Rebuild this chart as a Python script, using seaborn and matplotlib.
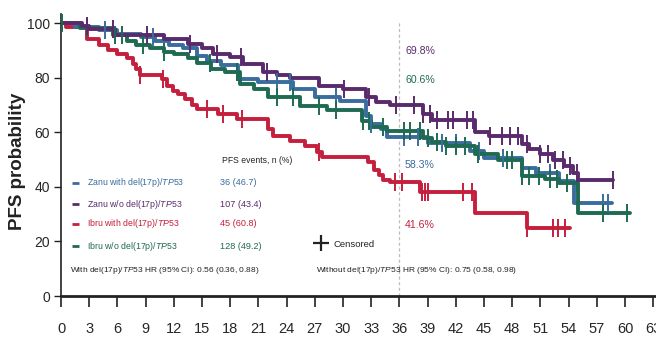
import numpy as np
import pandas as pd
import matplotlib
matplotlib.use("Agg")
import matplotlib.pyplot as plt
import seaborn as sns

# ---- Kaplan-Meier step data (months, PFS %) ----
red_t = [0, 0.5, 2.8, 4.0, 5.0, 6.0, 7.0, 7.7, 8.0, 8.4, 10.7, 11.3, 11.9, 12.5, 13.2,
         13.9, 14.5, 16.7, 18.7, 22.0, 22.6, 24.4, 26.0, 27.2, 27.8, 32.7, 33.3, 33.8,
         34.3, 35.0, 38.2, 44.0, 49.6, 54.1]
red_s = [100, 98.5, 94, 92, 90, 88.5, 87, 85, 83, 81, 79.4, 77, 75, 74, 72,
         70, 68.4, 66.5, 64.7, 61, 58.5, 56.6, 54.8, 52.6, 51, 49, 46, 44.5,
         42.6, 41.6, 38, 30.5, 25, 25]
red_c = [8.4, 10.9, 15.5, 17.2, 19.3, 27.5, 35.5, 36.3, 38.4, 38.7, 39.0, 42.8, 43.7,
         49.6, 52.3, 52.9, 53.6]

purple_t = [0, 2.2, 3.0, 5.7, 11.0, 13.5, 15.0, 16.2, 18.0, 19.4, 21.5, 23.0, 24.4, 27.5,
            30.0, 32.5, 33.5, 35.0, 38.5, 39.5, 44.0, 45.5, 49.0, 49.8, 51.0, 52.3, 53.5,
            54.5, 55.0, 58.7]
purple_s = [100, 99, 97.8, 95.5, 94, 92.3, 91, 88.5, 87.5, 85, 82, 81, 80, 77,
            75.7, 73, 71, 69.8, 66.5, 64.5, 60, 58.5, 55.5, 53.7, 52, 50, 47.5,
            45, 42.6, 42.6]
purple_c = [2.8, 5.5, 9.1, 13.7, 16.6, 19.2, 21.9, 30.1, 32.8, 35.6, 37.6, 38.5, 39.3,
            40.0, 41.2, 41.7, 43.2, 43.8, 45.6, 46.9, 47.8, 48.6, 49.6, 51.0, 51.8, 52.6,
            53.4, 54.2, 54.9, 58.7]

green_t = [0, 2.0, 5.5, 7.0, 8.0, 9.5, 11.0, 12.0, 13.5, 14.5, 16.0, 17.5, 19.0, 20.5,
           22.0, 25.4, 28.3, 32.0, 33.0, 34.7, 38.5, 39.5, 41.0, 44.0, 46.5, 49.0, 51.5,
           53.0, 55.0, 60.5]
green_s = [100, 98, 95.5, 93.5, 92, 91, 89.5, 88.6, 87, 85.5, 83, 82, 77.5, 76,
           73, 69.5, 68, 64, 62, 60.6, 58, 56.5, 55, 52, 50, 44, 43,
           41.5, 30.5, 30.5]
green_c = [0.1, 2.8, 5.7, 6.5, 8.7, 11.0, 15.9, 18.7, 23.0, 24.7, 27.5, 29.3, 32.1, 32.8,
           34.3, 36.5, 37.1, 38.2, 39.0, 40.0, 41.0, 42.0, 43.0, 44.4, 47.5, 48.0, 49.0,
           49.8, 50.8, 52.0, 52.8, 53.8, 54.9, 57.7, 60.2]

blue_t = [0, 1.5, 4.0, 6.0, 8.5, 10.0, 11.5, 13.0, 14.5, 15.5, 17.0, 18.8, 21.0, 24.7,
          27.0, 29.7, 32.5, 33.0, 34.0, 34.7, 39.0, 43.5, 45.0, 49.0, 50.5, 53.0, 54.6, 58.6]
blue_s = [100, 98.7, 97.4, 96, 94.7, 93.4, 92, 90.7, 88, 86, 84.5, 79.4, 78.3, 75.7,
          73, 71.5, 66, 63, 61, 58.3, 56, 53, 50.5, 47, 45, 42, 34.2, 34.2]
blue_c = [4.7, 9.8, 23.0, 24.4, 29.3, 33.0, 36.5, 38.0, 40.5, 42.0, 44.5, 47.0, 52.0,
          57.7, 58.2]

group_names = ["Zanu with del(17p)/$\\it{TP53}$", "Zanu w/o del(17p)/$\\it{TP53}$",
               "Ibru with del(17p)/$\\it{TP53}$", "Ibru w/o del(17p)/$\\it{TP53}$"]
group_events = ["36 (46.7)", "107 (43.4)", "45 (60.8)", "128 (49.2)"]
pfs36_labels = ["58.3%", "69.8%", "41.6%", "60.6%"]
x_ticks = list(range(0, 64, 3))
y_ticks = [0, 20, 40, 60, 80, 100]

colors = {"blue": "#3a6c9e", "purple": "#5a2b6c", "red": "#c41f3d", "green": "#1e6a52"}

sns.set_style("ticks")
plt.rcParams["font.family"] = ["Liberation Sans", "DejaVu Sans"]
plt.rcParams["mathtext.fontset"] = "custom"
plt.rcParams["mathtext.it"] = "Liberation Sans:italic"
plt.rcParams["mathtext.rm"] = "Liberation Sans"

fig = plt.figure(figsize=(6.56, 3.42), dpi=100)
ax = fig.add_axes([61 / 656, 46 / 342, 595 / 656, 282 / 342])

curves = [
    ("red", red_t, red_s, red_c),
    ("blue", blue_t, blue_s, blue_c),
    ("green", green_t, green_s, green_c),
    ("purple", purple_t, purple_s, purple_c),
]

for key, t, s, c in curves:
    df = pd.DataFrame({"month": t, "pfs": s})
    sns.lineplot(data=df, x="month", y="pfs", drawstyle="steps-post", estimator=None,
                 sort=False, color=colors[key], lw=2.8, ax=ax, legend=False)
    t_arr = np.asarray(t)
    s_arr = np.asarray(s)
    idx = np.searchsorted(t_arr, np.asarray(c), side="right") - 1
    cdf = pd.DataFrame({"month": c, "pfs": s_arr[idx]})
    sns.scatterplot(data=cdf, x="month", y="pfs", marker="|", s=170, linewidth=1.4,
                    color=colors[key], ax=ax, legend=False, zorder=3)

# 36-month reference line
ax.axvline(36, color="#bdbdbd", lw=0.9, ls=(0, (2.5, 2)), ymax=0.97, zorder=1)

ax.set_xlim(0, 63.3)
ax.set_ylim(0, 103.3)
ax.set_xticks(x_ticks)
ax.set_yticks(y_ticks)
ax.set_xticklabels([str(v) for v in x_ticks], fontsize=10.5)
ax.set_yticklabels([str(v) for v in y_ticks], fontsize=10)
ax.tick_params(axis="x", direction="out", length=8, width=1.2, pad=11, color="#222222")
ax.tick_params(axis="y", direction="out", length=5, width=1.0, pad=3, color="#222222")
ax.set_xlabel("")
ax.set_ylabel("")
sns.despine(ax=ax)
ax.spines["left"].set_linewidth(1.2)
ax.spines["bottom"].set_linewidth(2.0)
ax.spines["left"].set_color("#222222")
ax.spines["bottom"].set_color("#222222")

fig.text(18 / 656, 1 - 161 / 342, "PFS probability", rotation=90, fontsize=13.5,
         fontweight="bold", ha="center", va="center", color="#222222")

# Legend block
ax.text(17.1, 49.8, "PFS events, n (%)", fontsize=6.2, va="center", ha="left", color="#222222")
row_y = [41.5, 33.7, 26.4, 18.3]
row_keys = ["blue", "purple", "red", "green"]
for yv, key, name, ev in zip(row_y, row_keys, group_names, group_events):
    ax.plot([1.2, 1.9], [yv, yv], color=colors[key], lw=2.0, solid_capstyle="butt")
    ax.text(2.8, yv, name, fontsize=6.3, va="center", ha="left", color=colors[key])
    ax.text(16.9, yv, ev, fontsize=6.6, va="center", ha="left", color=colors[key])

ax.scatter([27.7], [19.4], marker="+", s=120, linewidths=1.6, color="#222222")
ax.text(29.0, 18.9, "Censored", fontsize=6.8, va="center", ha="left", color="#222222")

ax.text(1.0, 9.4, "With del(17p)/$\\it{TP53}$ HR (95% CI): 0.56 (0.36, 0.88)",
        fontsize=6.0, va="center", ha="left", color="#222222")
ax.text(27.1, 9.4, "Without del(17p)/$\\it{TP53}$ HR (95% CI): 0.75 (0.58, 0.98)",
        fontsize=6.0, va="center", ha="left", color="#222222")

# PFS rates at 36 months
pct_y = {"purple": 89.6, "green": 79.1, "blue": 48.0, "red": 26.0}
for key, lab in zip(["blue", "purple", "red", "green"], pfs36_labels):
    ax.text(36.6, pct_y[key], lab, fontsize=7.6, va="center", ha="left", color=colors[key])

fig.savefig("out.png", dpi=100)
